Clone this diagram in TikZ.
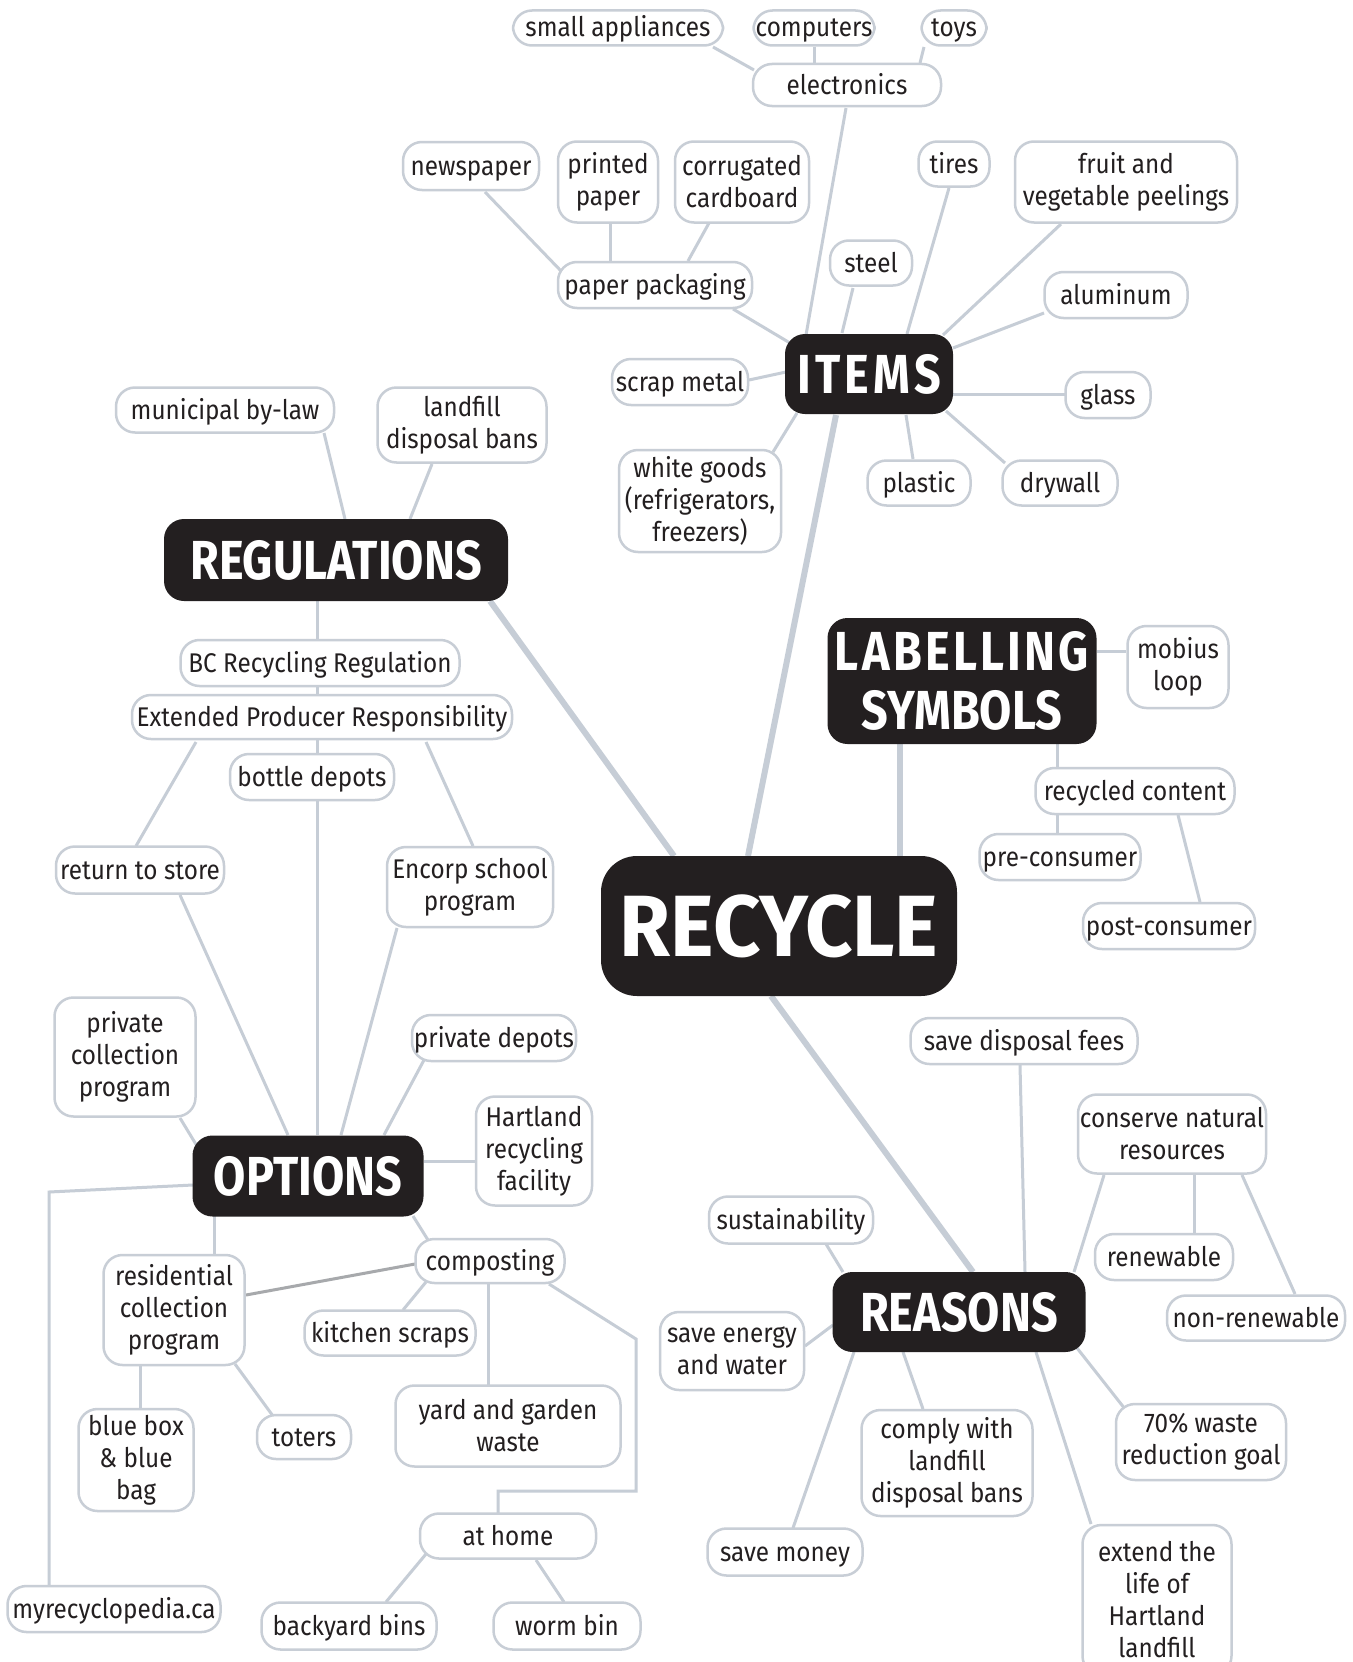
\documentclass[tikz,border=0pt]{standalone}
\usepackage{fontspec}
\setmainfont{Fira Sans}[FakeStretch=0.9]
\newfontfamily\hubfam{Fira Sans}[FakeStretch=0.85]
\newfontfamily\recfam{Fira Sans}[FakeStretch=0.95]
\usetikzlibrary{calc,backgrounds}
\definecolor{hubblack}{HTML}{231F20}
\definecolor{bordergray}{HTML}{C8CED6}
\definecolor{linegray}{HTML}{C6CDD6}
\definecolor{darkline}{HTML}{A7A9AC}
\definecolor{textblack}{HTML}{231F20}
\newcommand\leaffont{\fontsize{27}{32}\selectfont}
\newcommand\hubfont{\hubfam\bfseries\fontsize{55}{59}\selectfont}
\begin{document}
\begin{tikzpicture}[x=1pt,y=-1pt,
  leaf/.style={draw=bordergray, line width=2.5pt, fill=white, rounded corners=19pt, inner sep=0pt, align=center, text=textblack, font=\leaffont, execute at begin node={\rule{0pt}{26pt}}},
  one/.style={leaf, text height=24pt, text depth=6pt},
  hub/.style={fill=hubblack, rounded corners=20pt, inner sep=0pt, align=center, text=white, font=\hubfont},
  conn/.style={draw=linegray, line width=3pt},
  spoke/.style={draw=linegray, line width=6pt},
  darkconn/.style={draw=darkline, line width=3pt}]
\useasboundingbox (0,0) rectangle (1352,1662);
% ---------- hubs
\node[hub, minimum width=356pt, minimum height=140pt, rounded corners=36pt, font=\recfam\bfseries\fontsize{87}{90}\selectfont] (recycle) at (779,926) {RECYCLE};
\node[hub, minimum width=168pt, minimum height=80pt, font=\hubfont\addfontfeature{LetterSpace=8}] (items) at (869,374) {ITEMS};
\node[hub, minimum width=344pt, minimum height=82pt] (reg) at (336,560) {REGULATIONS};
\node[hub, minimum width=269pt, minimum height=126pt] (lab) at (962,681) {{\addfontfeature{LetterSpace=6}LABELLING}\\SYMBOLS};
\node[hub, minimum width=231pt, minimum height=81pt] (options) at (308,1176) {OPTIONS};
\node[hub, minimum width=253pt, minimum height=80pt] (reasons) at (959,1312) {REASONS};
% ---------- items
\node[one, minimum width=210pt, minimum height=35pt] (sa) at (618,28) {small appliances};
\node[one, minimum width=121pt, minimum height=35pt] (comp) at (814,28) {computers};
\node[one, minimum width=65pt, minimum height=35pt] (toys) at (954,28) {toys};
\node[one, minimum width=188pt, minimum height=42pt] (elec) at (847,85) {electronics};
\node[one, minimum width=136pt, minimum height=48pt] (news) at (471,166) {newspaper};
\node[leaf, minimum width=100pt, minimum height=81pt] (print) at (608,182) {printed\\paper};
\node[leaf, minimum width=134pt, minimum height=81pt] (corr) at (742,182) {corrugated\\cardboard};
\node[one, minimum width=194pt, minimum height=46pt] (ppack) at (655,285) {paper packaging};
\node[one, minimum width=71pt, minimum height=45pt] (tires) at (954,164) {tires};
\node[leaf, minimum width=222pt, minimum height=81pt] (fruit) at (1126,182) {fruit and\\vegetable peelings};
\node[one, minimum width=82pt, minimum height=45pt] (steel) at (871,263) {steel};
\node[one, minimum width=143pt, minimum height=46pt] (alu) at (1116,295) {aluminum};
\node[one, minimum width=136pt, minimum height=46pt] (scrap) at (680,382) {scrap metal};
\node[one, minimum width=85pt, minimum height=46pt] (glass) at (1108,395) {glass};
\node[one, minimum width=103pt, minimum height=45pt] (plastic) at (919,483) {plastic};
\node[one, minimum width=115pt, minimum height=45pt] (dry) at (1060,483) {drywall};
\node[leaf, minimum width=162pt, minimum height=102pt] (white) at (700,501) {white goods\\(refrigerators,\\freezers)};
% ---------- regulations
\node[one, minimum width=218pt, minimum height=45pt] (muni) at (225,410) {municipal by-law};
\node[leaf, minimum width=169pt, minimum height=75pt] (lfb) at (462,425) {landfill\\disposal bans};
\node[one, minimum width=279pt, minimum height=46pt] (bc) at (320,663) {BC Recycling Regulation};
\node[one, minimum width=380pt, minimum height=44pt] (epr) at (322,717) {Extended Producer Responsibility};
\node[one, minimum width=164pt, minimum height=46pt] (bottle) at (312,777) {bottle depots};
\node[one, minimum width=168pt, minimum height=47pt] (rts) at (140,870) {return to store};
\node[leaf, minimum width=166pt, minimum height=80pt] (encorp) at (470,887) {Encorp school\\program};
% ---------- labelling
\node[leaf, minimum width=101pt, minimum height=82pt] (mobius) at (1178,667) {mobius\\loop};
\node[one, minimum width=199pt, minimum height=46pt] (rc) at (1135,791) {recycled content};
\node[one, minimum width=161pt, minimum height=46pt] (pre) at (1060,857) {pre-consumer};
\node[one, minimum width=172pt, minimum height=46pt] (post) at (1169,926) {post-consumer};
% ---------- options
\node[leaf, minimum width=141pt, minimum height=119pt] (pcp) at (125,1057) {private\\collection\\program};
\node[one, minimum width=164pt, minimum height=46pt] (pdep) at (494,1038) {private depots};
\node[leaf, minimum width=116pt, minimum height=109pt] (hart) at (534,1151) {Hartland\\recycling\\facility};
\node[leaf, minimum width=141pt, minimum height=110pt] (resid) at (174,1310) {residential\\collection\\program};
\node[one, minimum width=149pt, minimum height=44pt] (compost) at (490,1261) {composting};
\node[one, minimum width=171pt, minimum height=45pt] (kitchen) at (390,1333) {kitchen scraps};
\node[leaf, minimum width=225pt, minimum height=81pt] (yard) at (508,1426) {yard and garden\\waste};
\node[leaf, minimum width=115pt, minimum height=102pt] (bluebox) at (136,1460) {blue box\\\& blue\\bag};
\node[one, minimum width=94pt, minimum height=44pt] (toters) at (304,1437) {toters};
\node[one, minimum width=176pt, minimum height=45pt] (athome) at (508,1536) {at home};
\node[one, minimum width=213pt, minimum height=46pt] (myrec) at (114,1609) {myrecyclopedia.ca};
\node[one, minimum width=175pt, minimum height=47pt] (backyard) at (349,1626) {backyard bins};
\node[one, minimum width=147pt, minimum height=47pt] (worm) at (567,1626) {worm bin};
% ---------- reasons
\node[one, minimum width=227pt, minimum height=46pt] (sdf) at (1024,1041) {save disposal fees};
\node[leaf, minimum width=188pt, minimum height=79pt] (cnr) at (1172,1134) {conserve natural\\resources};
\node[one, minimum width=164pt, minimum height=47pt] (sust) at (791,1220) {sustainability};
\node[one, minimum width=138pt, minimum height=46pt] (renew) at (1164,1257) {renewable};
\node[one, minimum width=178pt, minimum height=45pt] (nonrenew) at (1256,1318) {non-renewable};
\node[leaf, minimum width=144pt, minimum height=78pt] (energy) at (732,1351) {save energy\\and water};
\node[leaf, minimum width=171pt, minimum height=106pt] (comply) at (947,1463) {comply with\\landfill\\disposal bans};
\node[leaf, minimum width=170pt, minimum height=76pt] (goal) at (1201,1442) {70\% waste\\reduction goal};
\node[one, minimum width=155pt, minimum height=47pt] (money) at (785,1552) {save money};
\node[leaf, minimum width=149pt, minimum height=150pt] (extend) at (1157,1600) {extend the\\life of\\Hartland\\landfill};
% ---------- connectors
\begin{scope}[on background layer]
\fill[white] (0,0) rectangle (1352,1662);
% items
\draw[conn] ($(sa)+(95,19)$) -- ($(elec)+(-93,-15)$);
\draw[conn] ($(comp)+(0,19)$) -- ($(elec)+(-33,-22)$);
\draw[conn] ($(toys)+(-30,19)$) -- ($(elec)+(73,-22)$);
\draw[conn] ($(elec)+(-1,23)$) -- ($(items)+(-63,-39)$);
\draw[conn] ($(news)+(14,26)$) -- ($(ppack)+(-93,-13)$);
\draw[conn] ($(print)+(2,42)$) -- ($(ppack)+(-45,-24)$);
\draw[conn] ($(corr)+(-33,41)$) -- ($(ppack)+(33,-24)$);
\draw[conn] ($(ppack)+(78,24)$) -- ($(items)+(-79,-31)$);
\draw[conn] ($(steel)+(-18,25)$) -- ($(items)+(-27,-41)$);
\draw[conn] ($(tires)+(-5,24)$) -- ($(items)+(38,-40)$);
\draw[conn] ($(fruit)+(-65,42)$) -- ($(items)+(74,-39)$);
\draw[conn] ($(alu)+(-72,18)$) -- ($(items)+(84,-26)$);
\draw[conn] ($(glass)+(-43,-1)$) -- ($(items)+(84,20)$);
\draw[conn] ($(dry)+(-55,-20)$) -- ($(items)+(77,37)$);
\draw[conn] ($(plastic)+(-6,-24)$) -- ($(items)+(37,41)$);
\draw[conn] ($(scrap)+(69,-2)$) -- ($(items)+(-83,-2)$);
\draw[conn] ($(white)+(73,-49)$) -- ($(items)+(-72,39)$);
\draw[spoke] ($(items)+(-33,41)$) -- ($(recycle)+(-31,-70)$);
% regulations
\draw[conn] ($(muni)+(99,23)$) -- ($(reg)+(9,-41)$);
\draw[conn] ($(lfb)+(-30,39)$) -- ($(reg)+(74,-41)$);
\draw[conn] ($(reg)+(-19,41)$) -- ($(bc)+(-3,-24)$);
\draw[conn] ($(bc)+(-3,24)$) -- ($(epr)+(-5,-23)$);
\draw[conn] ($(epr)+(-5,23)$) -- ($(bottle)+(5,-24)$);
\draw[conn] ($(epr)+(-126,25)$) -- ($(rts)+(-4,-24)$);
\draw[conn] ($(epr)+(104,25)$) -- ($(encorp)+(3,-41)$);
\draw[conn] ($(bottle)+(5,24)$) -- ($(options)+(9,-41)$);
\draw[conn] ($(rts)+(40,25)$) -- ($(options)+(-20,-41)$);
\draw[conn] ($(encorp)+(-73,41)$) -- ($(options)+(33,-41)$);
\draw[spoke] ($(reg)+(154,41)$) -- ($(recycle)+(-105,-70)$);
% options
\draw[conn] ($(pcp)+(55,61)$) -- ($(options)+(-111,-30)$);
\draw[conn] ($(pdep)+(-70,22)$) -- ($(options)+(76,-41)$);
\draw[conn] ($(hart)+(-59,10)$) -- ($(options)+(116,-15)$);
\draw[conn] ($(options)+(-115,9)$) -- ($(options)+(-259,16)$) -- ($(myrec)+(-65,-24)$);
\draw[conn] ($(options)+(-94,40)$) -- ($(resid)+(40,-56)$);
\draw[conn] ($(options)+(105,40)$) -- ($(compost)+(-62,-21)$);
\draw[darkconn] ($(compost)+(-75,3)$) -- ($(resid)+(72,-15)$);
\draw[conn] ($(compost)+(-64,21)$) -- ($(kitchen)+(13,-23)$);
\draw[conn] ($(compost)+(-2,23)$) -- ($(yard)+(-20,-41)$);
\draw[conn] ($(compost)+(59,23)$) -- ($(compost)+(146,78)$) -- ($(athome)+(128,-45)$) -- ($(athome)+(-10,-45)$) -- ($(athome)+(-10,-23)$);
\draw[conn] ($(resid)+(-34,56)$) -- ($(bluebox)+(4,-52)$);
\draw[conn] ($(resid)+(61,54)$) -- ($(toters)+(-31,-21)$);
\draw[conn] ($(athome)+(-82,18)$) -- ($(backyard)+(37,-24)$);
\draw[conn] ($(athome)+(28,24)$) -- ($(worm)+(-3,-24)$);
% labelling
\draw[spoke] ($(lab)+(-62,63)$) -- ($(recycle)+(121,-70)$);
\draw[conn] ($(lab)+(135,-30)$) -- ($(mobius)+(-52,-16)$);
\draw[conn] ($(lab)+(95,63)$) -- ($(rc)+(-78,-24)$);
\draw[conn] ($(rc)+(-78,24)$) -- ($(pre)+(-3,-24)$);
\draw[conn] ($(rc)+(43,24)$) -- ($(post)+(31,-24)$);
% reasons
\draw[spoke] ($(recycle)+(-8,70)$) -- ($(reasons)+(14,-40)$);
\draw[conn] ($(sdf)+(-4,24)$) -- ($(reasons)+(66,-40)$);
\draw[conn] ($(cnr)+(-68,41)$) -- ($(reasons)+(115,-40)$);
\draw[conn] ($(cnr)+(22,41)$) -- ($(renew)+(30,-24)$);
\draw[conn] ($(cnr)+(70,41)$) -- ($(nonrenew)+(39,-24)$);
\draw[conn] ($(sust)+(35,24)$) -- ($(reasons)+(-116,-40)$);
\draw[conn] ($(energy)+(73,-5)$) -- ($(reasons)+(-126,13)$);
\draw[conn] ($(money)+(8,-24)$) -- ($(reasons)+(-105,40)$);
\draw[conn] ($(comply)+(-24,-54)$) -- ($(reasons)+(-56,40)$);
\draw[conn] ($(extend)+(-66,-76)$) -- ($(reasons)+(77,40)$);
\draw[conn] ($(goal)+(-76,-33)$) -- ($(reasons)+(118,36)$);
\end{scope}
\end{tikzpicture}
\end{document}
